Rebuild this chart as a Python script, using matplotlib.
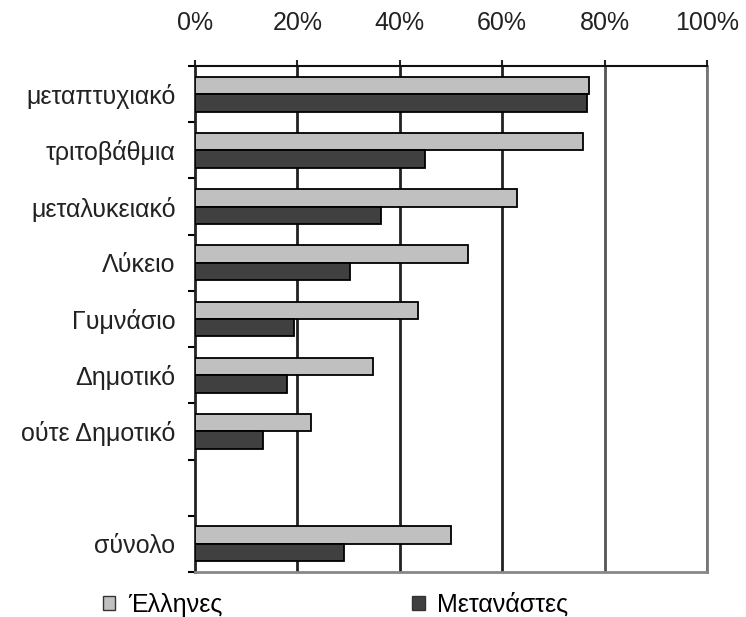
import matplotlib
matplotlib.use("Agg")
import matplotlib.pyplot as plt
from matplotlib.patches import Patch
from matplotlib.ticker import FuncFormatter

plt.rcParams['font.family'] = ['Liberation Sans', 'DejaVu Sans']

categories = ['μεταπτυχιακό', 'τριτοβάθμια', 'μεταλυκειακό', 'Λύκειο', 'Γυμνάσιο',
              'Δημοτικό', 'ούτε Δημοτικό', '', 'σύνολο']
greeks = [77.0, 75.8, 62.8, 53.4, 43.5, 34.8, 22.6, None, 50.0]
migrants = [76.5, 44.9, 36.3, 30.2, 19.4, 17.9, 13.2, None, 29.1]
xticks = [0, 20, 40, 60, 80, 100]

fig = plt.figure(figsize=(7.46, 6.17), dpi=100)
ax = fig.add_axes([0.2614, 0.073, 0.6863, 0.820])

h = 0.31
for i, (g, m) in enumerate(zip(greeks, migrants)):
    if g is None:
        continue
    ax.barh(i - h / 2, g, height=h, color='#c0c0c0', edgecolor='black', linewidth=1.3, zorder=3)
    ax.barh(i + h / 2, m, height=h, color='#404040', edgecolor='black', linewidth=1.3, zorder=3)

ax.set_xlim(0, 100)
ax.set_ylim(len(categories) - 0.5, -0.5)

ax.set_xticks(xticks)
ax.xaxis.set_major_formatter(FuncFormatter(lambda v, p: '%d%%' % v))
ax.xaxis.tick_top()
ax.tick_params(axis='x', length=4, width=1.5, labelsize=18, pad=18, colors='#222')

ax.set_yticks(range(len(categories)))
ax.set_yticklabels(categories)
ax.set_yticks([i - 0.5 for i in range(len(categories) + 1)], minor=True)
ax.tick_params(axis='y', which='major', length=0, labelsize=18, pad=14, colors='#222')
ax.tick_params(axis='y', which='minor', length=5, width=1.5)

for v in xticks[1:]:
    col = '#222' if v < 80 else '#555'
    ax.axvline(v, color=col, linewidth=2, zorder=1)

ax.spines['top'].set_color('#111')
ax.spines['top'].set_linewidth(1.5)
ax.spines['left'].set_color('#222')
ax.spines['left'].set_linewidth(2)
ax.spines['right'].set_color('#777')
ax.spines['right'].set_linewidth(2)
ax.spines['bottom'].set_color('#888')
ax.spines['bottom'].set_linewidth(2)

handles = [Patch(facecolor='#c0c0c0', edgecolor='#333', label='Έλληνες'),
           Patch(facecolor='#404040', edgecolor='#333', label='Μετανάστες')]
fig.legend(handles=handles, loc='lower left', bbox_to_anchor=(0.138, 0.0), ncol=2,
           frameon=False, fontsize=18, handlelength=0.5, handleheight=0.5,
           handletextpad=0.5, columnspacing=7.6, borderaxespad=0, borderpad=0)

fig.savefig('out.png', dpi=100)
